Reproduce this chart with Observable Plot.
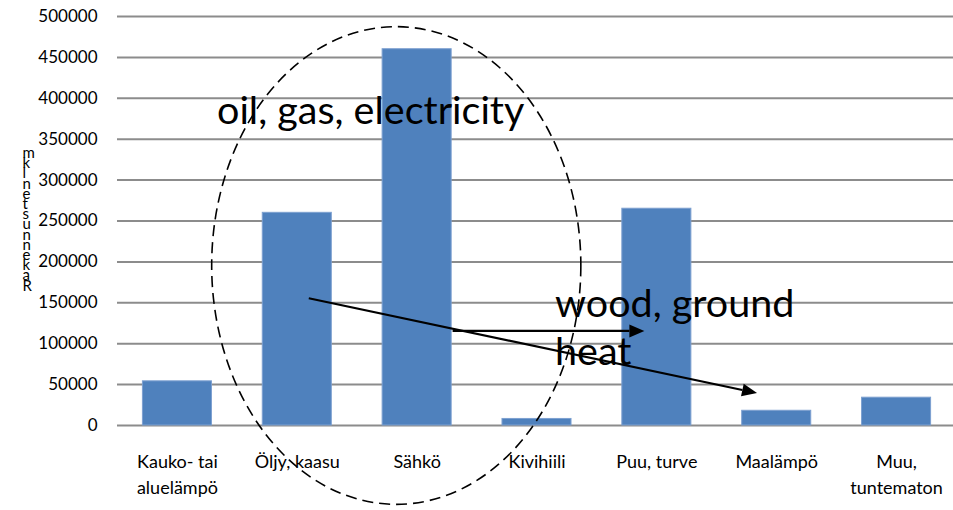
<!DOCTYPE html>
<html><head><meta charset="utf-8">
<script src="https://cdn.jsdelivr.net/npm/d3@7"></script>
<script src="https://cdn.jsdelivr.net/npm/@observablehq/plot@0.6"></script>
<style>body{margin:0;background:#fff}</style>
</head><body><div id="chart"></div>
<script>
// ---- data ----
const categories = ["Kauko- tai\naluelämpö", "Öljy, kaasu", "Sähkö", "Kivihiili", "Puu, turve", "Maalämpö", "Muu,\ntuntematon"];
const values = [54000, 260000, 460000, 8000, 265000, 18000, 34000];
const yTicks = [0, 50000, 100000, 150000, 200000, 250000, 300000, 350000, 400000, 450000, 500000];
const yLabel = "Rakennusten lkm";

// annotations (in data units: x = category index, y = value)
const noteTexts = ["oil, gas, electricity", "wood, ground", "heat"];
const noteX = [0.33, 3.15, 3.15];
const noteY = [368000, 133000, 74000];

const arrowX1 = [1.10, 2.30];
const arrowY1 = [155000, 115000];
const arrowX2 = [4.84, 3.90];
const arrowY2 = [39000, 115000];

const ellipseCx = 1.83, ellipseCy = 195000, ellipseRx = 1.54, ellipseRy = 292000;

// ---- build ----
const bars = categories.map((c, i) => ({i, c, v: values[i]}));
const notes = noteTexts.map((t, i) => ({t, x: noteX[i], y: noteY[i]}));
const labelStack = Array.from(yLabel).filter(ch => ch !== " ").reverse().join("\n");

const W = 953, H = 510, ML = 117, MR = -3, MT = 16, MB = 85;

function overlay(index, scales) {
  const x = (scales && scales.x) || d3.scaleLinear([-0.5, 6.5], [ML, W - MR]);
  const y = (scales && scales.y) || d3.scaleLinear([0, 500000], [H - MB, MT]);
  const g = d3.create("svg:g");
  g.append("ellipse")
    .attr("cx", x(ellipseCx)).attr("cy", y(ellipseCy))
    .attr("rx", Math.abs(x(ellipseCx + ellipseRx) - x(ellipseCx)))
    .attr("ry", Math.abs(y(ellipseCy - ellipseRy) - y(ellipseCy)))
    .attr("fill", "none").attr("stroke", "#000").attr("stroke-width", 1.6)
    .attr("stroke-dasharray", "11,6");
  for (let k = 0; k < arrowX1.length; ++k) {
    const ax = x(arrowX1[k]), ay = y(arrowY1[k]), bx = x(arrowX2[k]), by = y(arrowY2[k]);
    const ang = Math.atan2(by - ay, bx - ax);
    const L = 15, hw = 6.5;
    const cx = bx - L * Math.cos(ang), cy = by - L * Math.sin(ang);
    g.append("line").attr("x1", ax).attr("y1", ay).attr("x2", cx).attr("y2", cy)
      .attr("stroke", "#000").attr("stroke-width", 2.2);
    const p = [[bx, by],
      [cx + hw * Math.sin(ang), cy - hw * Math.cos(ang)],
      [cx - hw * Math.sin(ang), cy + hw * Math.cos(ang)]];
    g.append("polygon").attr("points", p.map(d => d.join(",")).join(" ")).attr("fill", "#000");
  }
  return g.node();
}

const chart = Plot.plot({
  width: W, height: H,
  marginLeft: ML, marginRight: MR, marginTop: MT, marginBottom: MB,
  style: {fontFamily: "Lato, sans-serif", fontSize: "17px", color: "#000", background: "#fff"},
  x: {domain: [-0.5, 6.5]},
  y: {domain: [0, 500000]},
  marks: [
    Plot.ruleY(yTicks, {stroke: "#8c8c8c", strokeWidth: 2}),
    Plot.rect(bars, {x1: d => d.i - 0.288, x2: d => d.i + 0.288, y1: 0, y2: "v", fill: "#4f81bd", stroke: "#7da0d0", strokeWidth: 1}),
    Plot.axisY(yTicks, {tickFormat: d => String(d), tickSize: 0, tickPadding: 20, fontSize: 17, label: null}),
    Plot.axisX(d3.range(categories.length), {tickFormat: i => categories[i], tickSize: 0, tickPadding: 24, fontSize: 18, lineHeight: 1.44, label: null}),
    Plot.text([labelStack], {frameAnchor: "left", dx: -95, text: d => d, fontSize: 15, lineHeight: 0.68, fill: "#000"}),
    Plot.text(notes, {x: "x", y: "y", text: "t", textAnchor: "start", lineAnchor: "bottom", fontSize: 39.5, fill: "#000"}),
    overlay
  ]
});
document.getElementById("chart").appendChild(chart);
</script>
</body></html>
